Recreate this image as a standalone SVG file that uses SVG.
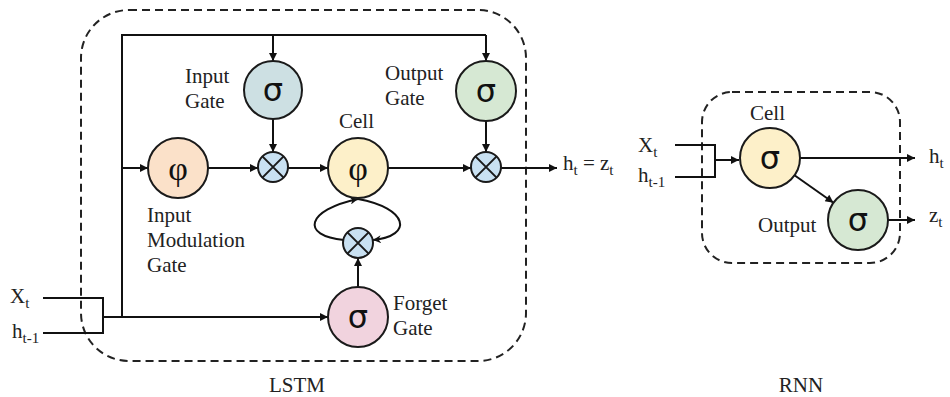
<svg xmlns="http://www.w3.org/2000/svg" width="950" height="397" viewBox="0 0 950 397">
<defs>
<marker id="ah" viewBox="0 0 10 10" refX="10" refY="5" markerWidth="11" markerHeight="8" markerUnits="userSpaceOnUse" orient="auto">
<path d="M0,0 L10,5 L0,10 Z" fill="#111"/>
</marker>
<marker id="ah2" viewBox="0 0 10 10" refX="10" refY="5" markerWidth="9" markerHeight="8" markerUnits="userSpaceOnUse" orient="auto">
<path d="M0,0 L10,5 L0,10 L3,5 Z" fill="#111"/>
</marker>
<g id="mul">
<circle r="15" fill="#c9e1f2" stroke="#1a1a1a" stroke-width="2"/>
<path d="M-10.6,-10.6 L10.6,10.6 M10.6,-10.6 L-10.6,10.6" stroke="#1a1a1a" stroke-width="2"/>
</g>
</defs>
<style>
.t{font-family:"Liberation Serif","Times New Roman",serif;font-size:21px;fill:#222}
.sub{font-size:15px}
.sig{font-family:"DejaVu Sans","Liberation Sans",sans-serif;font-size:32px;fill:#111;text-anchor:middle}
.phi{font-family:"Liberation Serif","Times New Roman",serif;font-size:34px;fill:#111;text-anchor:middle}
.n{stroke:#1a1a1a;stroke-width:2}
.c{fill:none;stroke:#111;stroke-width:2}
.dash{fill:none;stroke:#222;stroke-width:2;stroke-dasharray:8 5}
</style>
<rect width="950" height="397" fill="#fff"/>

<!-- boxes -->
<rect class="dash" x="81" y="10" width="445" height="351" rx="48" ry="48"/>
<rect class="dash" x="702" y="92" width="198" height="171" rx="30" ry="30"/>

<g id="connectors">
<!-- LSTM inputs -->
<path class="c" d="M43,298 H103 V333 H43"/>
<path class="c" d="M103,317 H328" marker-end="url(#ah)"/>
<path class="c" d="M122,317 V35 H486"/>
<path class="c" d="M273,35 V61" marker-end="url(#ah)"/>
<path class="c" d="M486,35 V61" marker-end="url(#ah)"/>
<path class="c" d="M122,168 H148" marker-end="url(#ah)"/>
<path class="c" d="M208,168 H258" marker-end="url(#ah)"/>
<path class="c" d="M273,119 V152" marker-end="url(#ah)"/>
<path class="c" d="M288,168 H328" marker-end="url(#ah)"/>
<path class="c" d="M388,168 H471" marker-end="url(#ah)"/>
<path class="c" d="M486,121 V152" marker-end="url(#ah)"/>
<path class="c" d="M501,168 H557" marker-end="url(#ah)"/>
<path class="c" d="M358,287 V258" marker-end="url(#ah)"/>
<path class="c" d="M344,240 C300,236 306,210 358,199" marker-end="url(#ah2)"/>
<path class="c" d="M358,199 C408,208 414,236 373,240" marker-end="url(#ah2)"/>
<!-- RNN -->
<path class="c" d="M675,145 H715 V177 H675"/>
<path class="c" d="M715,160 H739" marker-end="url(#ah)"/>
<path class="c" d="M800,158 H915" marker-end="url(#ah)"/>
<path class="c" d="M794.5,175.3 L833.5,202.7" marker-end="url(#ah)"/>
<path class="c" d="M888,220 H915" marker-end="url(#ah)"/>
</g>

<g id="input-gate">
<circle class="n" cx="273" cy="90" r="29" fill="#cde0e3"/>
<text class="sig" x="273" y="101">σ</text>
<text class="t" x="185" y="83">Input</text>
<text class="t" x="185" y="108">Gate</text>
</g>
<g id="output-gate">
<circle class="n" cx="486" cy="91" r="30" fill="#d6e8d3"/>
<text class="sig" x="486" y="102">σ</text>
<text class="t" x="385" y="80">Output</text>
<text class="t" x="385" y="105">Gate</text>
</g>
<g id="input-modulation">
<circle class="n" cx="178" cy="168" r="30" fill="#fbe1c9"/>
<text class="phi" x="178" y="180">φ</text>
<text class="t" x="147" y="222">Input</text>
<text class="t" x="147" y="247">Modulation</text>
<text class="t" x="147" y="272">Gate</text>
</g>
<g id="cell">
<circle class="n" cx="358" cy="168" r="30" fill="#fdf0c9"/>
<text class="phi" x="358" y="180">φ</text>
<text class="t" x="339" y="128">Cell</text>
</g>
<g id="forget-gate">
<circle class="n" cx="358" cy="317" r="30" fill="#f1d3de"/>
<text class="sig" x="358" y="328">σ</text>
<text class="t" x="393" y="310">Forget</text>
<text class="t" x="393" y="335">Gate</text>
</g>
<g id="mul-input"><use href="#mul" x="273" y="167"/></g>
<g id="mul-output"><use href="#mul" x="486" y="167"/></g>
<g id="mul-forget"><use href="#mul" x="358" y="243"/></g>

<g id="lstm-io">
<text class="t" x="10" y="303">X<tspan class="sub" dy="5">t</tspan></text>
<text class="t" x="12" y="338">h<tspan class="sub" dy="5">t-1</tspan></text>
<text class="t" x="563" y="170">h<tspan class="sub" dy="5">t</tspan><tspan dy="-5"> =  z</tspan><tspan class="sub" dy="5">t</tspan></text>
</g>

<g id="rnn-cell">
<circle class="n" cx="770" cy="158" r="30" fill="#fdf0c9"/>
<text class="sig" x="770" y="169">σ</text>
<text class="t" x="750" y="120">Cell</text>
</g>
<g id="rnn-output">
<circle class="n" cx="858" cy="220" r="30" fill="#d6e8d3"/>
<text class="sig" x="858" y="231">σ</text>
<text class="t" x="758" y="232">Output</text>
</g>
<g id="rnn-io">
<text class="t" x="638" y="152">X<tspan class="sub" dy="5">t</tspan></text>
<text class="t" x="638" y="182">h<tspan class="sub" dy="5">t-1</tspan></text>
<text class="t" x="929" y="163">h<tspan class="sub" dy="5">t</tspan></text>
<text class="t" x="929" y="222">z<tspan class="sub" dy="5">t</tspan></text>
</g>

<text class="t" x="297" y="392" text-anchor="middle">LSTM</text>
<text class="t" x="801" y="392" text-anchor="middle">RNN</text>
</svg>
